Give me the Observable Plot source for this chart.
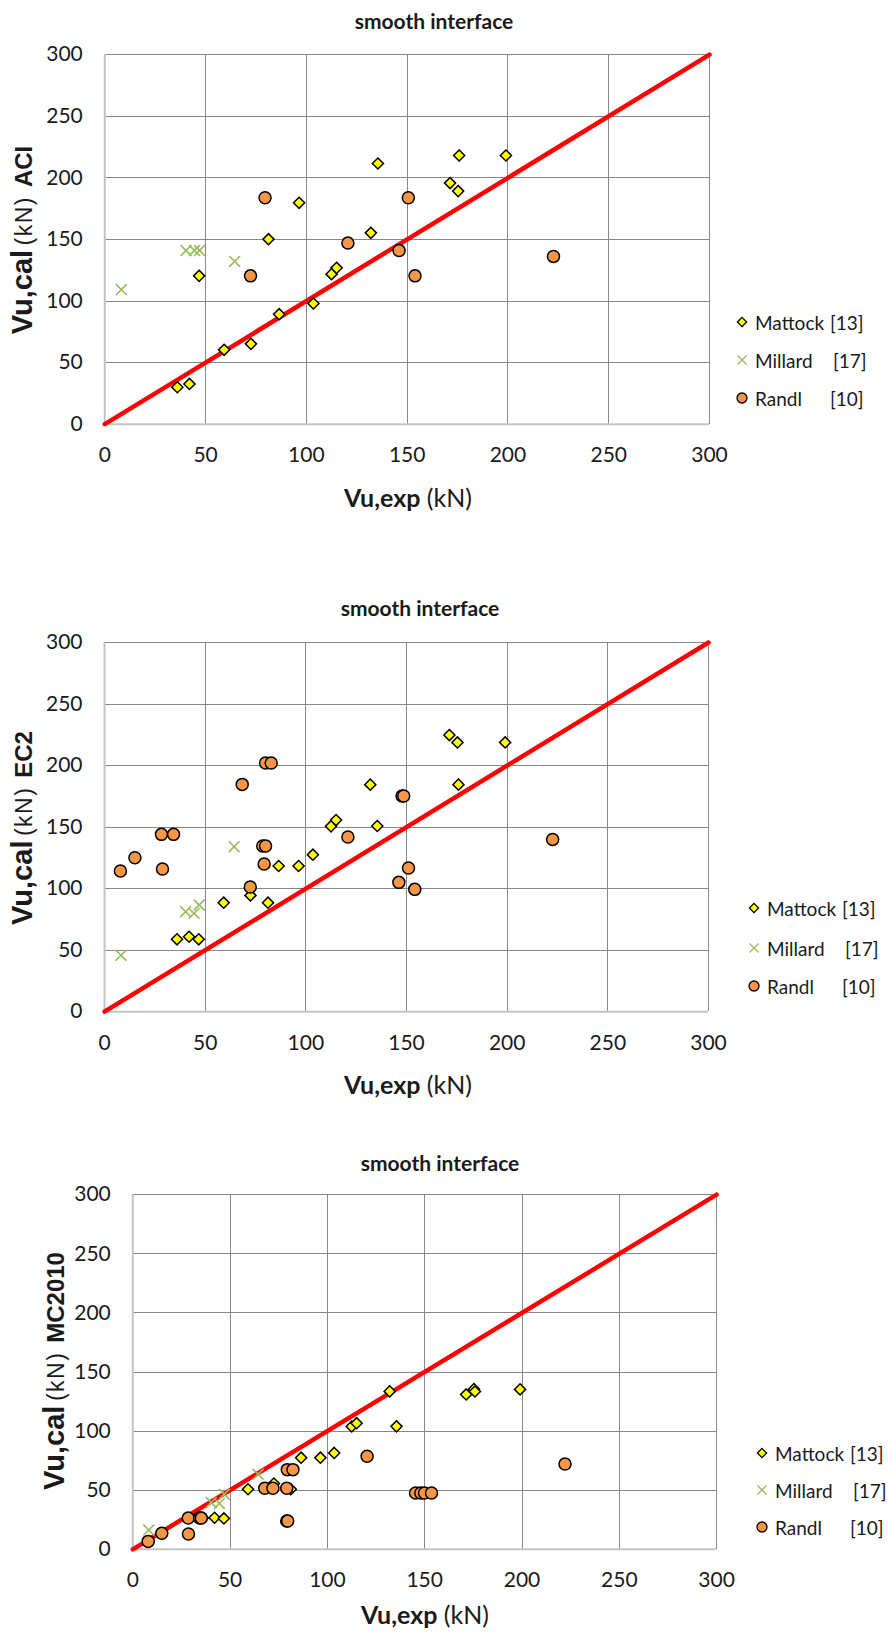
<!DOCTYPE html>
<html><head><meta charset="utf-8">
<script src="https://cdn.jsdelivr.net/npm/d3@7"></script>
<script src="https://cdn.jsdelivr.net/npm/@observablehq/plot@0.6"></script>
<style>
body{margin:0;background:#fff;}
#root{position:relative;width:888px;height:1637px;overflow:hidden;font-family:Lato, sans-serif;color:#1a1a1a;}
.abs{position:absolute;white-space:pre;line-height:1;}
.title{font-weight:bold;font-size:21px;transform:translate(-50%,-50%);}
.xlab{font-size:25px;transform:translate(-50%,-50%);}
.xlab b{font-weight:bold;}
.ylab{transform:translate(-50%,-50%) rotate(-90deg);font-family:"Liberation Sans",Arial,sans-serif;}
.ylab .v{font-weight:bold;font-size:29px;}
.ylab .u{font-size:23px;letter-spacing:1.5px;}
.ylab .c{font-weight:bold;font-size:24px;}
.leg{font-size:19px;transform:translateY(-50%);}
</style></head><body><div id="root"></div>
<script>
// ---- axes ----
const ticks = [0, 50, 100, 150, 200, 250, 300];
const identityLine = [0, 300];
const seriesNames = ["Mattock", "Millard", "Randl"];
const seriesRefs = ["[13]", "[17]", "[10]"];
const panelTitles = ["smooth interface", "smooth interface", "smooth interface"];
const codeNames = ["ACI", "EC2", "MC2010"];

// ---- Mattock [13] ----
const mattockExp = [36, 42, 46.8, 59.2, 72.5, 81.2, 86.5, 96.4, 103.5, 112.5, 115, 132, 135.5, 171.3, 175.3, 175.8, 199];
const mattockACI = [30.0, 32.7, 120.4, 60.4, 65.2, 150.2, 89.3, 179.7, 98.0, 121.8, 126.9, 155.3, 211.6, 195.7, 189.2, 218.1, 218.1];
const mattockEC2 = [58.8, 60.9, 58.8, 88.6, 94.5, 88.6, 118.4, 118.4, 127.6, 150.6, 155.7, 184.5, 150.9, 224.8, 218.8, 184.5, 218.8];
const mattockMC = [26.5, 26.7, 26.1, 50.8, 55.6, 50.8, 77.5, 77.5, 81.5, 103.9, 106.7, 133.6, 104.0, 131.0, 135.5, 133.5, 135.3];

// ---- Millard [17] ----
const millardExp = [8.2, 40.3, 44.5, 47.0, 64.4];
const millardACI = [109.3, 141, 141, 141, 132.1];
const millardEC2 = [45.8, 81.3, 79.9, 86.7, 134.1];
const millardMC = [16.3, 39.6, 38.8, 46.6, 63.5];

// ---- Randl [10] ----
const randlExpACI = [72.3, 79.5, 120.6, 146.0, 150.6, 153.9, 222.6];
const randlACI = [120.4, 183.8, 147.0, 141.0, 183.8, 120.4, 136.2];
const randlExpEC2 = [7.9, 15.1, 28.3, 28.8, 34.3, 68.4, 72.4, 78.6, 80.0, 79.3, 80.0, 82.8, 120.9, 146.2, 147.8, 148.6, 151.0, 154.1, 222.6];
const randlEC2 = [114.3, 125.1, 144.1, 115.9, 144.1, 184.7, 101.3, 134.6, 134.6, 120.0, 202.1, 202.1, 141.9, 105.1, 175.2, 175.2, 116.7, 99.4, 140.0];
const randlExpMC = [7.9, 14.9, 28.5, 28.6, 34.3, 35.2, 67.8, 72.0, 79.1, 79.4, 82.3, 79.1, 79.6, 120.4, 145.3, 148.0, 149.9, 153.5, 222.1];
const randlMC = [6.7, 13.5, 26.4, 12.9, 26.4, 26.4, 51.7, 51.7, 51.7, 67.4, 67.4, 23.9, 23.9, 78.7, 47.7, 47.7, 47.7, 47.7, 72.2];

const zip = (xs, ys) => xs.map((x, i) => ({x, y: ys[i]}));
const root = document.getElementById("root");

function addEl(cls, x, y, html) {
  const d = document.createElement("div");
  d.className = "abs " + cls;
  d.style.left = x + "px";
  d.style.top = y + "px";
  d.innerHTML = html;
  root.appendChild(d);
  return d;
}

const markerSvg = [
  '<svg width="14" height="14" viewBox="-7 -7 14 14"><path d="M0,-4.6L4.6,0L0,4.6L-4.6,0Z" fill="#ffff00" stroke="#000" stroke-width="1.3"/></svg>',
  '<svg width="14" height="14" viewBox="-7 -7 14 14"><path d="M-4.5,-4.5L4.5,4.5M-4.5,4.5L4.5,-4.5" stroke="#9bbb59" stroke-width="1.3"/></svg>',
  '<svg width="14" height="14" viewBox="-7 -7 14 14"><circle r="5" fill="#f79646" stroke="#000" stroke-width="1.3"/></svg>'
];

const panels = [
  {svgTop: 0, height: 480, mL: 104.3, mR: 179, mT: 54.1, mB: 56.3,
   mattockY: mattockACI, millardY: millardACI, randlX: randlExpACI, randlY: randlACI,
   title: [434, 20], xlab: [408, 497], ylab: [22, 240], leg: [742, [322, 360, 398]]},
  {svgTop: 587.5, height: 480, mL: 104, mR: 180, mT: 54, mB: 56.8,
   mattockY: mattockEC2, millardY: millardEC2, randlX: randlExpEC2, randlY: randlEC2,
   title: [420, 607], xlab: [408, 1084], ylab: [22, 828], leg: [754, [908, 948, 986]]},
  {svgTop: 1140, height: 460, mL: 132.3, mR: 171.9, mT: 54.2, mB: 51.2,
   mattockY: mattockMC, millardY: millardMC, randlX: randlExpMC, randlY: randlMC,
   title: [440, 1162], xlab: [425, 1614], ylab: [54, 1371], leg: [762, [1453, 1490, 1527]]}
];

panels.forEach((p, k) => {
  const chart = Plot.plot({
    width: 888, height: p.height,
    marginLeft: p.mL, marginRight: p.mR, marginTop: p.mT, marginBottom: p.mB,
    x: {domain: [0, 300], ticks: 6, tickSize: 0, tickPadding: 23, label: null},
    y: {domain: [0, 300], ticks: 6, tickSize: 0, tickPadding: 22, label: null},
    style: {fontFamily: "Lato, sans-serif", fontSize: "21px", color: "#1a1a1a", background: "transparent", overflow: "visible"},
    marks: [
      Plot.ruleX(ticks.slice(1), {stroke: "#878787", strokeWidth: 1, shapeRendering: "crispEdges"}),
      Plot.ruleY(ticks.slice(1), {stroke: "#878787", strokeWidth: 1, shapeRendering: "crispEdges"}),
      Plot.ruleX([ticks[0]], {stroke: "#c4c4c4", strokeWidth: 2}),
      Plot.ruleY([ticks[0]], {stroke: "#c4c4c4", strokeWidth: 2}),
      Plot.line(identityLine, {x: d => d, y: d => d, stroke: "#ff0000", strokeWidth: 4.5}),
      Plot.dot(zip(mattockExp, p.mattockY), {x: "x", y: "y", symbol: "diamond2", r: 5, fill: "#ffff00", stroke: "#000", strokeWidth: 1.5}),
      Plot.dot(zip(millardExp, p.millardY), {x: "x", y: "y", symbol: "times", r: 5, stroke: "#9bbb59", strokeWidth: 1.6}),
      Plot.dot(zip(p.randlX, p.randlY), {x: "x", y: "y", symbol: "circle", r: 6, fill: "#f79646", stroke: "#000", strokeWidth: 1.5})
    ]
  });
  chart.style.position = "absolute";
  chart.style.left = "0px";
  chart.style.top = p.svgTop + "px";
  root.appendChild(chart);

  addEl("title", p.title[0], p.title[1], panelTitles[k]);
  addEl("xlab", p.xlab[0], p.xlab[1], '<b>Vu,exp</b> (kN)');
  addEl("ylab", p.ylab[0], p.ylab[1],
    '<span class="v">Vu,cal</span> <span class="u">(kN)</span>  <span class="c">' + codeNames[k] + '</span>');
  const [mx, rows] = p.leg;
  rows.forEach((ry, i) => {
    addEl("", mx - 7, ry - 7, markerSvg[i]);
    addEl("leg", mx + 13, ry, seriesNames[i]);
    addEl("leg", mx + (i === 1 ? 91 : 88), ry, seriesRefs[i]);
  });
});
</script></body></html>
